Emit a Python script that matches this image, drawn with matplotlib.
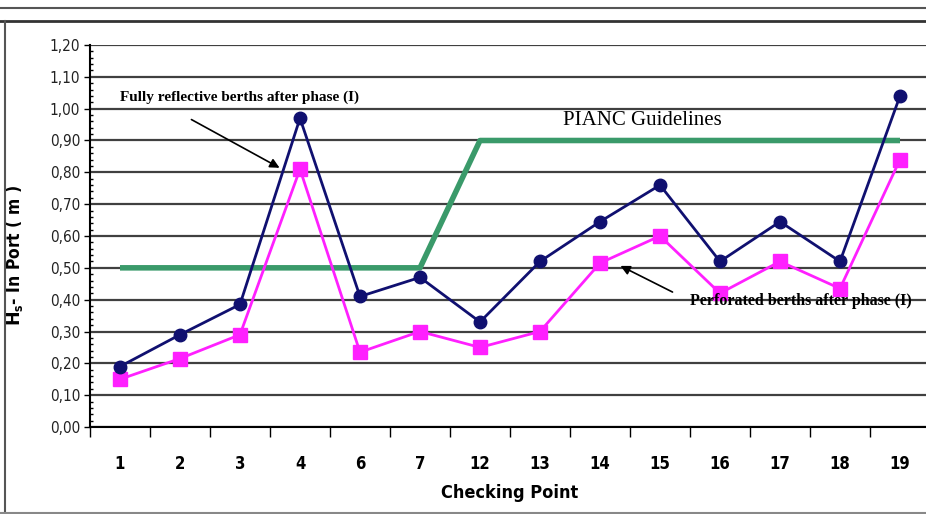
import matplotlib
matplotlib.use("Agg")
import matplotlib.pyplot as plt
from matplotlib.ticker import MultipleLocator, FixedLocator
from matplotlib.lines import Line2D
import numpy as np

categories = ["1", "2", "3", "4", "6", "7", "12", "13", "14", "15", "16", "17", "18", "19"]
fully_reflective = [0.19, 0.29, 0.385, 0.97, 0.41, 0.47, 0.33, 0.52, 0.645, 0.76, 0.52, 0.645, 0.52, 1.04]
perforated = [0.15, 0.215, 0.29, 0.81, 0.235, 0.30, 0.25, 0.30, 0.515, 0.60, 0.42, 0.52, 0.435, 0.84]
pianc = [0.5, 0.5, 0.5, 0.5, 0.5, 0.5, 0.9, 0.9, 0.9, 0.9, 0.9, 0.9, 0.9, 0.9]
y_ticks = [0.0, 0.1, 0.2, 0.3, 0.4, 0.5, 0.6, 0.7, 0.8, 0.9, 1.0, 1.1, 1.2]

narrow = ["DejaVu Sans"]
serif = ["Liberation Serif", "DejaVu Serif"]

fig = plt.figure(figsize=(9.26, 5.14), dpi=100)
ax = fig.add_axes([90 / 926, 1 - 427 / 514, 840 / 926, 382 / 514])

x = np.arange(len(categories))

for yt in y_ticks:
    ax.axhline(yt, color="#404040", lw=1.6, zorder=1)

ax.plot(x, pianc, color="#3a9a6a", lw=4, zorder=2, solid_capstyle="butt")
ax.plot(x, fully_reflective, color="#101070", lw=2, marker="o", ms=9, zorder=4)
ax.plot(x, perforated, color="#ff20ff", lw=2, marker="s", ms=10, zorder=3)

ax.set_xlim(-0.5, len(categories) - 0.5)
ax.set_ylim(0, 1.2)
ax.set_yticks(y_ticks)
ax.set_yticklabels([f"{v:.2f}".replace(".", ",") for v in y_ticks], family=narrow,
                   fontstretch="condensed", fontsize=11, color="#222222")
ax.yaxis.set_minor_locator(MultipleLocator(0.02))
ax.tick_params(axis="y", which="major", length=4, width=1, direction="out", pad=3)
ax.tick_params(axis="y", which="minor", length=2, width=1, direction="in")

ax.set_xticks(x)
ax.set_xticklabels(categories, family=narrow, fontstretch="condensed", fontsize=12, fontweight="bold")
ax.tick_params(axis="x", which="major", length=0, pad=20)
ax.xaxis.set_minor_locator(FixedLocator(np.arange(-0.5, len(categories), 1.0)))
ax.tick_params(axis="x", which="minor", length=7, width=1, direction="out")

for s in ["top", "right"]:
    ax.spines[s].set_visible(False)
ax.spines["left"].set_linewidth(1.5)
ax.spines["bottom"].set_linewidth(1.5)

ax.set_xlabel("Checking Point", family=narrow, fontstretch="condensed", fontsize=13,
              fontweight="bold", labelpad=8)
ax.set_ylabel(r"$\mathbf{H}$$_{\mathregular{s}}$- In Port ( m )", family=narrow, fontstretch="condensed",
              fontsize=12.5, fontweight="bold")
ax.yaxis.set_label_coords(-0.077, 0.45)

ax.text(0.0, 1.035, "Fully reflective berths after phase (I)", family=serif, fontsize=11,
        fontweight="bold", ha="left", va="center", zorder=5)
ax.annotate("", xy=(2.7, 0.81), xytext=(1.15, 0.97),
            arrowprops=dict(arrowstyle="-|>", color="black", lw=1.2, mutation_scale=14))
ax.text(8.7, 0.962, "PIANC Guidelines", family=serif, fontsize=15, ha="center", va="center", zorder=5)
ax.text(11.35, 0.395, "Perforated berths after phase (I)", family=serif, fontsize=11.5,
        fontweight="bold", ha="center", va="center", zorder=5)
ax.annotate("", xy=(8.3, 0.51), xytext=(9.25, 0.42),
            arrowprops=dict(arrowstyle="-|>", color="black", lw=1.2, mutation_scale=14))

# outer frame
fig.add_artist(Line2D([0, 1], [1 - 8 / 514, 1 - 8 / 514], color="#555555", lw=1.5, transform=fig.transFigure))
fig.add_artist(Line2D([0, 1], [1 - 21 / 514, 1 - 21 / 514], color="#333333", lw=2, transform=fig.transFigure))
fig.add_artist(Line2D([5 / 926, 5 / 926], [0, 1 - 21 / 514], color="#555555", lw=1.5, transform=fig.transFigure))
fig.add_artist(Line2D([0, 1], [1.5 / 514, 1.5 / 514], color="#888888", lw=1.5, transform=fig.transFigure))

fig.savefig("out.png", dpi=100)
